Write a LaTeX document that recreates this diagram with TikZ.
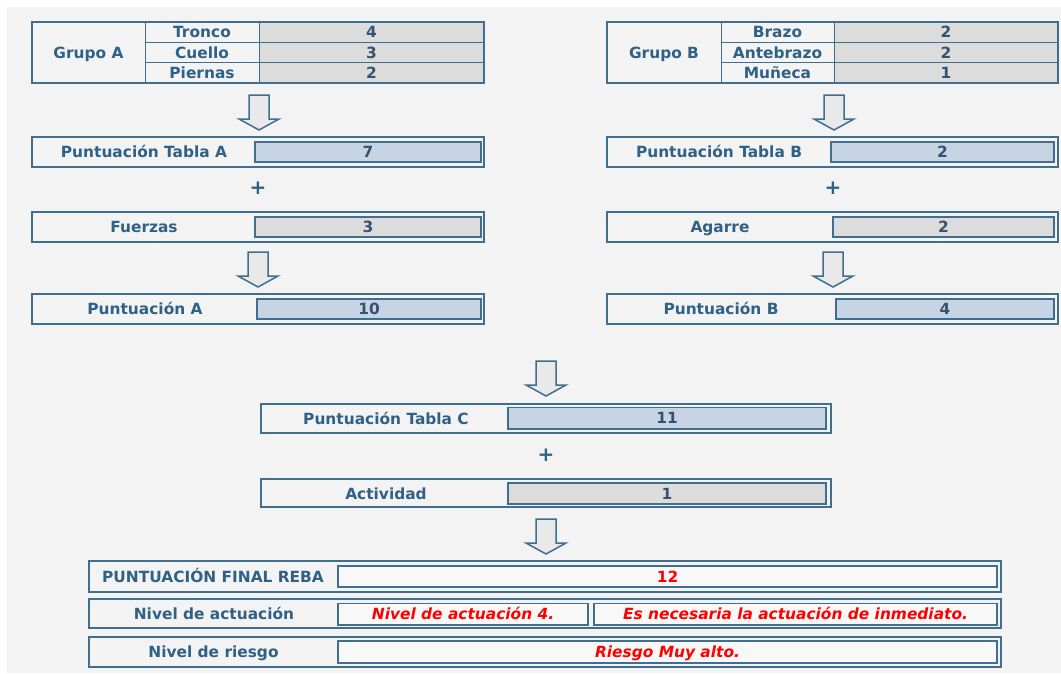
\documentclass[tikz,border=0pt]{standalone}
\usepackage{fontspec}
\setmainfont{DejaVu Sans}
\usetikzlibrary{calc}
\definecolor{bgc}{HTML}{F3F3F3}
\definecolor{bord}{HTML}{3F6E8E}
\definecolor{lblc}{HTML}{2F6086}
\definecolor{valc}{HTML}{35526E}
\definecolor{vgray}{HTML}{DCDCDC}
\definecolor{vblue}{HTML}{C6D4E3}
\definecolor{vwhite}{HTML}{F8F8F8}
\definecolor{redc}{HTML}{FF0000}
\definecolor{arrfill}{HTML}{E9E9E9}
\tikzset{
  txt/.style={text height=11.2pt, text depth=0pt},
  cell/.style={txt, draw=bord, line width=1pt, anchor=north west, inner sep=0pt, outer sep=0pt, text=lblc},
  frame/.style={draw=bord, line width=1.5pt, fill=bgc, anchor=north west, inner sep=0pt, outer sep=0pt},
  valbox/.style={txt, draw=bord, line width=1.5pt, anchor=north west, inner sep=0pt, outer sep=0pt, text=valc},
  bluev/.style={valbox, fill=vblue},
  grayv/.style={valbox, fill=vgray},
  whitev/.style={valbox, fill=vwhite, text=redc, font=\fontsize{15.4}{18}\selectfont\bfseries\itshape},
  lbl/.style={txt, text=lblc, inner sep=0pt},
  plus/.style={text=lblc, inner sep=0pt, font=\fontsize{20}{22}\selectfont\bfseries},
  blockarrow/.pic={\draw[draw=bord, fill=arrfill, line width=1.5pt, line join=miter]
     (-10,0) -- (10,0) -- (10,24) -- (20,24) -- (0,35) -- (-20,24) -- (-10,24) -- cycle;}
}
\newcommand\bx[6]{\node[#6, minimum width={(#4-#2)*1pt}, minimum height={(#5-#3)*1pt}] (#1) at (#2,#3)}
\begin{document}
\begin{tikzpicture}[x=1pt,y=-1pt,font=\fontsize{15.4}{18}\selectfont\bfseries]
\useasboundingbox (0,0) rectangle (1061,673);
\fill[white] (0,0) rectangle (1061,673);
\fill[bgc] (7,7) rectangle (1061,673);

% ---------- Group A table ----------
\bx{gA}{32}{22}{145}{83}{cell}{Grupo A};
\bx{tr}{145}{22}{259}{42.3}{cell}{Tronco};
\bx{cu}{145}{42.3}{259}{62.7}{cell}{Cuello};
\bx{pi}{145}{62.7}{259}{83}{cell}{Piernas};
\bx{trv}{259}{22}{484}{42.3}{cell,fill=vgray,text=valc}{4};
\bx{cuv}{259}{42.3}{484}{62.7}{cell,fill=vgray,text=valc}{3};
\bx{piv}{259}{62.7}{484}{83}{cell,fill=vgray,text=valc}{2};
\draw[bord, line width=1.5pt] (gA.north west) rectangle (piv.south east);

% ---------- Group B table ----------
\bx{gB}{607}{22}{721}{83}{cell}{Grupo B};
\bx{br}{721}{22}{834}{42.3}{cell}{Brazo};
\bx{an}{721}{42.3}{834}{62.7}{cell}{Antebrazo};
\bx{mu}{721}{62.7}{834}{83}{cell}{Muñeca};
\bx{brv}{834}{22}{1058}{42.3}{cell,fill=vgray,text=valc}{2};
\bx{anv}{834}{42.3}{1058}{62.7}{cell,fill=vgray,text=valc}{2};
\bx{muv}{834}{62.7}{1058}{83}{cell,fill=vgray,text=valc}{1};
\draw[bord, line width=1.5pt] (gB.north west) rectangle (muv.south east);

% ---------- Column A ----------
\bx{tA}{32}{137}{484}{167}{frame}{};
\bx{tAv}{255}{142}{481}{162}{bluev}{7};
\node[lbl] (tAl) at (144,152) {Puntuación Tabla A};
\node[plus] (pA) at (258,188) {+};
\bx{fu}{32}{212}{484}{242}{frame}{};
\bx{fuv}{255}{217}{481}{237}{grayv}{3};
\node[lbl] (ful) at (144,227) {Fuerzas};
\bx{pA2}{32}{294}{484}{324}{frame}{};
\bx{pAv}{257}{299}{481}{319}{bluev}{10};
\node[lbl] (pAl) at (145,309) {Puntuación A};

% ---------- Column B ----------
\bx{tB}{607}{137}{1058}{167}{frame}{};
\bx{tBv}{831}{142}{1054}{162}{bluev}{2};
\node[lbl] (tBl) at (719,152) {Puntuación Tabla B};
\node[plus] (pB) at (833,188) {+};
\bx{ag}{607}{212}{1058}{242}{frame}{};
\bx{agv}{833}{217}{1054}{237}{grayv}{2};
\node[lbl] (agl) at (720,227) {Agarre};
\bx{pB2}{607}{294}{1058}{324}{frame}{};
\bx{pBv}{836}{299}{1054}{319}{bluev}{4};
\node[lbl] (pBl) at (721,309) {Puntuación B};

% ---------- Column C ----------
\bx{tC}{261}{404}{831}{433}{frame}{};
\bx{tCv}{508}{407.5}{826}{429}{bluev}{11};
\node[lbl] (tCl) at (386,418.5) {Puntuación Tabla C};
\node[plus] (pC) at (546,455) {+};
\bx{ac}{261}{479}{831}{507}{frame}{};
\bx{acv}{508}{483}{826}{504}{grayv}{1};
\node[lbl] (acl) at (386,493.5) {Actividad};

% ---------- Final ----------
\bx{fi}{89}{561}{1001}{592}{frame}{};
\bx{fiv}{338}{566}{997}{587}{whitev}{\upshape 12};
\node[lbl] (fil) at (213,576.5) {PUNTUACIÓN FINAL REBA};
\bx{na}{89}{599}{1001}{628}{frame}{};
\bx{nav1}{338}{603.5}{588}{625}{whitev}{Nivel de actuación 4.};
\bx{nav2}{594}{603.5}{997}{625}{whitev}{Es necesaria la actuación de inmediato.};
\node[lbl] (nal) at (214,614) {Nivel de actuación};
\bx{nr}{89}{637}{1001}{667}{frame}{};
\bx{nrv}{338}{641}{997}{663}{whitev}{Riesgo Muy alto.};
\node[lbl] (nrl) at (213.5,652) {Nivel de riesgo};

% ---------- Block arrows ----------
\pic at ($(piv.south west)+(0,12)$) {blockarrow};
\pic at ($(muv.south west)+(0,12)$) {blockarrow};
\pic at ($(tA.south west)+(226,85)$) {blockarrow};
\pic at ($(tB.south west)+(226,85)$) {blockarrow};
\pic at ($(pA2.south west)+(514,37)$) {blockarrow};
\pic at ($(ac.south)+(0,12)$) {blockarrow};
\end{tikzpicture}
\end{document}
